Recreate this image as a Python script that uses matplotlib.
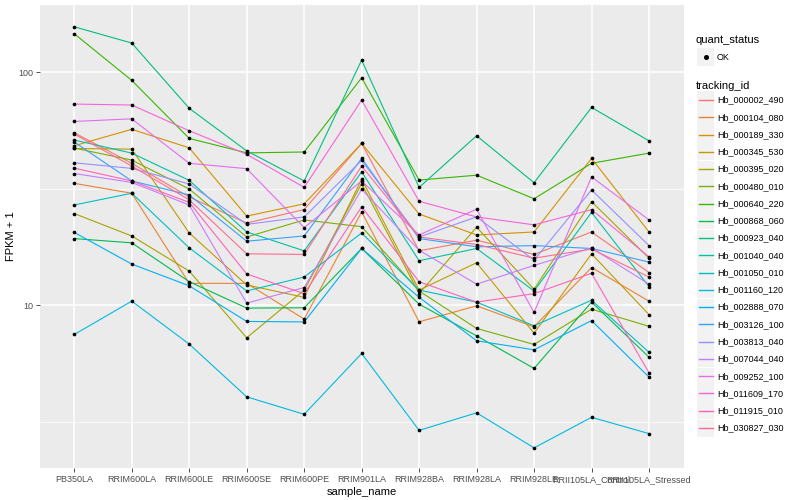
import matplotlib
matplotlib.use("Agg")
import matplotlib.pyplot as plt
import numpy as np
from matplotlib.patches import Rectangle
from matplotlib.lines import Line2D
from matplotlib.ticker import FixedLocator, NullFormatter

plt.rcParams['font.family'] = ['Liberation Sans', 'DejaVu Sans']

samples = ["PB350LA", "RRIM600LA", "RRIM600LE", "RRIM600SE", "RRIM600PE", "RRIM901LA",
           "RRIM928BA", "RRIM928LA", "RRIM928LE", "RRII105LA_Control", "RRII105LA_Stressed"]

tracking_ids = ["Hb_000002_490", "Hb_000104_080", "Hb_000189_330", "Hb_000345_530", "Hb_000395_020",
                "Hb_000480_010", "Hb_000640_220", "Hb_000868_060", "Hb_000923_040", "Hb_001040_040",
                "Hb_001050_010", "Hb_001160_120", "Hb_002888_070", "Hb_003126_100", "Hb_003813_040",
                "Hb_007044_040", "Hb_009252_100", "Hb_011609_170", "Hb_011915_010", "Hb_030827_030"]

# FPKM + 1, one list per gene, in sample order
hb_000002_490 = [54.9, 40.6, 29.1, 22.5, 25.7, 49.4, 17.1, 19.0, 16.5, 20.6, 13.8]
hb_000104_080 = [33.3, 30.2, 12.4, 12.4, 8.71, 25.1, 8.48, 9.93, 8.07, 14.5, 10.4]
hb_000189_330 = [48.3, 56.8, 47.3, 24.1, 27.2, 49.4, 24.6, 20.0, 20.6, 42.6, 20.6]
hb_000345_530 = [47.0, 46.7, 20.4, 12.2, 10.8, 34.7, 11.6, 15.2, 7.58, 16.6, 9.10]
hb_000395_020 = [24.7, 19.8, 14.0, 7.24, 11.6, 33.2, 11.2, 21.6, 11.7, 27.8, 15.9]
hb_000480_010 = [47.2, 41.9, 31.5, 19.6, 23.2, 21.7, 11.5, 7.94, 6.78, 9.61, 8.11]
hb_000640_220 = [146.0, 92.1, 51.9, 45.0, 45.4, 94.5, 34.4, 36.1, 28.6, 40.6, 44.9]
hb_000868_060 = [19.3, 18.5, 12.6, 9.71, 9.74, 17.5, 10.1, 7.38, 5.35, 10.3, 5.98]
hb_000923_040 = [156.4, 133.2, 69.9, 45.9, 34.1, 112.6, 32.0, 53.3, 33.5, 70.5, 50.7]
hb_001040_040 = [51.1, 44.9, 34.3, 20.6, 17.1, 37.3, 15.5, 17.5, 11.5, 25.0, 12.0]
hb_001050_010 = [26.9, 30.2, 17.6, 11.5, 13.2, 20.4, 11.6, 10.3, 8.15, 10.5, 6.27]
hb_001160_120 = [7.48, 10.4, 6.80, 4.04, 3.40, 6.20, 2.90, 3.45, 2.44, 3.30, 2.81]
hb_002888_070 = [20.5, 15.0, 12.1, 8.51, 8.47, 17.5, 10.8, 7.03, 6.43, 8.58, 4.91]
hb_003126_100 = [50.1, 34.1, 29.7, 18.8, 19.8, 42.6, 19.3, 17.8, 18.0, 17.5, 15.3]
hb_003813_040 = [40.8, 38.6, 33.1, 22.2, 23.9, 41.8, 19.6, 23.9, 15.6, 31.2, 18.0]
hb_007044_040 = [36.7, 33.6, 26.9, 10.2, 11.9, 31.4, 17.2, 12.3, 14.8, 17.6, 12.3]
hb_009252_100 = [61.4, 63.0, 40.6, 38.5, 21.5, 34.1, 20.0, 25.8, 9.30, 35.5, 23.2]
hb_011609_170 = [72.9, 72.2, 56.0, 44.4, 32.0, 75.8, 27.9, 23.9, 22.1, 25.7, 16.1]
hb_011915_010 = [38.7, 34.1, 27.6, 13.6, 11.2, 26.4, 12.6, 10.3, 11.2, 13.7, 5.12]
hb_030827_030 = [54.2, 39.5, 28.3, 16.6, 16.5, 39.5, 19.6, 18.2, 15.9, 17.4, 13.2]

series = [hb_000002_490, hb_000104_080, hb_000189_330, hb_000345_530, hb_000395_020,
          hb_000480_010, hb_000640_220, hb_000868_060, hb_000923_040, hb_001040_040,
          hb_001050_010, hb_001160_120, hb_002888_070, hb_003126_100, hb_003813_040,
          hb_007044_040, hb_009252_100, hb_011609_170, hb_011915_010, hb_030827_030]

# ggplot2 default hue palette for 20 levels
colours = ['#F8766D', '#EA8331', '#D89000', '#C09B00', '#A3A500', '#7CAE00', '#39B600', '#00BB4E',
           '#00BF7D', '#00C1A3', '#00BFC4', '#00BAE0', '#00B0F6', '#35A2FF', '#9590FF', '#C77CFF',
           '#E76BF3', '#FA62DB', '#FF62BC', '#FF6C91']

W, H = 800, 500
fig = plt.figure(figsize=(8, 5), dpi=100)
ax = fig.add_axes([39.8 / W, 32 / H, 643.7 / W, 463 / H])
ax.set_facecolor('#EBEBEB')
for s in ax.spines.values():
    s.set_visible(False)

x = np.arange(len(samples))
for fpkm, col in zip(series, colours):
    ax.plot(x, fpkm, color=col, lw=0.8, zorder=2)
for fpkm in series:
    ax.scatter(x, fpkm, s=7, color='black', zorder=3, linewidths=0)

ax.set_yscale('log')
ax.set_ylim(2.0, 194)
ax.set_xlim(-0.6, len(samples) - 0.4)
ax.set_yticks([10, 100])
ax.set_yticklabels(['10', '100'])
ax.yaxis.set_minor_locator(FixedLocator([10 ** 0.5, 10 ** 1.5]))
ax.yaxis.set_minor_formatter(NullFormatter())
ax.set_xticks(x)
ax.set_xticklabels(samples)
ax.tick_params(which='major', length=3, width=0.6, color='#333333', labelsize=6.5,
               labelcolor='#4D4D4D', pad=2)
ax.tick_params(which='minor', length=0)
ax.grid(which='major', color='white', lw=1.1)
ax.grid(which='minor', axis='y', color='white', lw=0.5)
ax.set_axisbelow(True)
ax.set_xlabel('sample_name', fontsize=8, labelpad=2)
ax.set_ylabel('FPKM + 1', fontsize=8, labelpad=1)

# legends, drawn in figure pixel coordinates
def fx(px): return px / W
def fy(py): return 1 - py / H

fig.text(fx(696), fy(40), 'quant_status', fontsize=8, va='center', ha='left')
fig.add_artist(Rectangle((fx(697), fy(65.5)), 17 / W, 17 / H, transform=fig.transFigure,
                         facecolor='#F2F2F2', edgecolor='none'))
fig.add_artist(Line2D([fx(705.5)], [fy(57)], marker='o', markersize=2.6, color='black',
                      transform=fig.transFigure))
fig.text(fx(717), fy(57), 'OK', fontsize=6.5, va='center', ha='left')

fig.text(fx(696), fy(86), 'tracking_id', fontsize=8, va='center', ha='left')
step = (428 - 100) / (len(tracking_ids) - 1)
for i, (tid, col) in enumerate(zip(tracking_ids, colours)):
    cy = 100 + i * step
    fig.add_artist(Rectangle((fx(697), fy(cy + 8.5)), 17 / W, 17 / H, transform=fig.transFigure,
                             facecolor='#F2F2F2', edgecolor='none'))
    fig.add_artist(Line2D([fx(698.5), fx(712.5)], [fy(cy), fy(cy)], color=col, lw=1.0,
                          transform=fig.transFigure))
    fig.text(fx(717), fy(cy), tid, fontsize=6.5, va='center', ha='left')

fig.savefig('out.png', dpi=100)
